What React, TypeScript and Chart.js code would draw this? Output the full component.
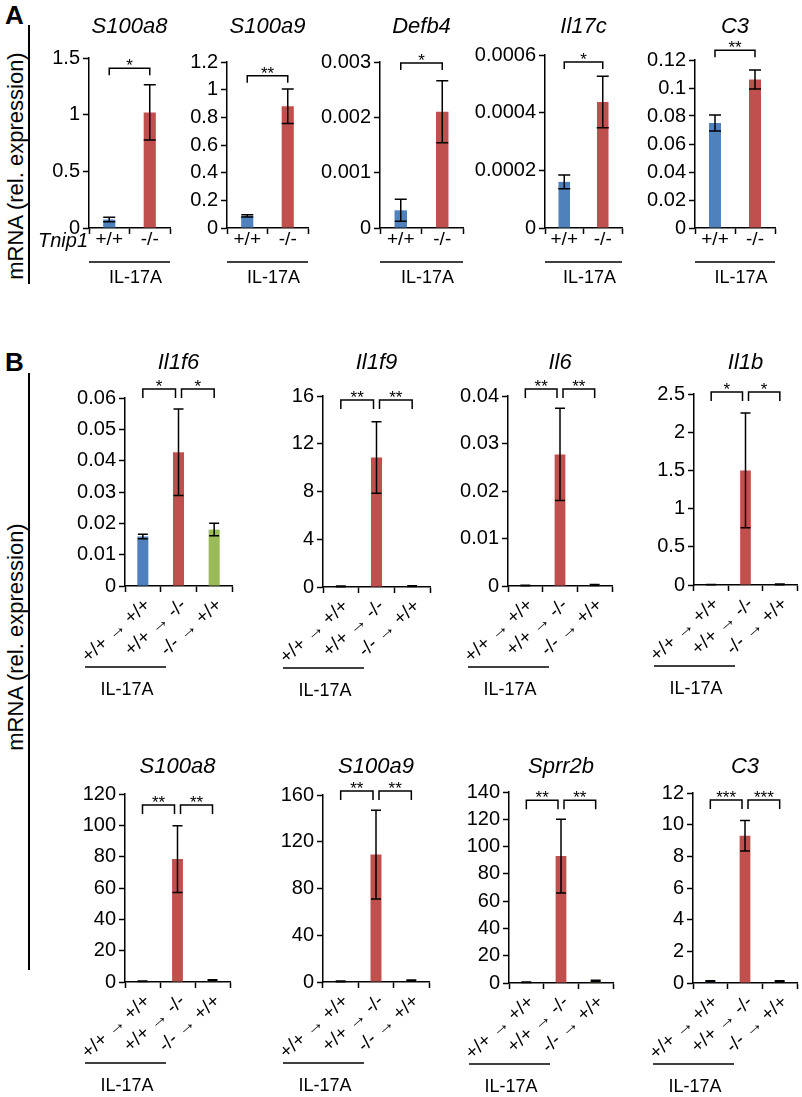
import React, { useEffect, useRef } from "react";
import { Chart, registerables } from "chart.js";
Chart.register(...registerables);

const FONT = '"Liberation Sans", Arial, Helvetica, sans-serif';
const BLUE = "#4F81BD";
const RED = "#C0504D";
const GREEN = "#9BBB59";

// ---------- Panel A data ----------
const genotypesA = ["+/+", "-/-"];
const genesA = ["S100a8", "S100a9", "Defb4", "Il17c", "C3"];
const meansA = [
  [0.075, 1.02],
  [0.088, 0.88],
  [0.00032, 0.0021],
  [0.00016, 0.000437],
  [0.075, 0.106],
];
const semA = [
  [0.02, 0.243],
  [0.008, 0.125],
  [0.0002, 0.00056],
  [0.000024, 0.000089],
  [0.0057, 0.0068],
];
const yMaxA = [1.5, 1.2, 0.003, 0.0006, 0.12];
const yStepA = [0.5, 0.2, 0.001, 0.0002, 0.02];
const starsA = ["*", "**", "*", "*", "**"];
const bracketA = [1.41, 1.1, 0.00298, 0.000576, 0.127];

// ---------- Panel B data ----------
const transplantsB = ["+/+ \u2192 +/+", "+/+ \u2192 -/-", "-/- \u2192 +/+"];
const genesB = ["Il1f6", "Il1f9", "Il6", "Il1b", "S100a8", "S100a9", "Sprr2b", "C3"];
const meansB = [
  [0.0158, 0.0427, 0.018],
  [0.06, 10.85, 0.08],
  [0.0001, 0.0277, 0.0002],
  [0.005, 1.5, 0.008],
  [0.5, 78.5, 1.0],
  [0.6, 109, 1.2],
  [0.5, 93, 1.5],
  [0.1, 9.3, 0.1],
];
const semB = [
  [0.0007, 0.0138, 0.002],
  [0.03, 3.0, 0.03],
  [0.00005, 0.0097, 0.0001],
  [0.003, 0.75, 0.004],
  [0.2, 21.3, 0.4],
  [0.3, 38, 0.5],
  [0.2, 27, 0.6],
  [0.04, 0.97, 0.05],
];
const yMaxB = [0.06, 16, 0.04, 2.5, 120, 160, 140, 12];
const yStepB = [0.01, 2, 0.01, 0.5, 20, 40, 20, 2];
const starsB = [
  ["*", "*"],
  ["**", "**"],
  ["**", "**"],
  ["*", "*"],
  ["**", "**"],
  ["**", "**"],
  ["**", "**"],
  ["***", "***"],
];
const bracketB = [0.0629, 15.66, 0.0415, 2.526, 113, 163.4, 134, 11.56];

// ---------- layout (pixel placement of each plot area) ----------
const layoutA = [
  { x0: 89, x1: 170, y0: 58, y1: 228 },
  { x0: 227, x1: 308, y0: 62, y1: 228 },
  { x0: 380, x1: 463, y0: 62, y1: 228 },
  { x0: 545, x1: 622, y0: 55, y1: 228 },
  { x0: 695, x1: 775, y0: 60, y1: 228 },
];
const layoutB = [
  { x0: 125, x1: 232, y0: 398, y1: 586 },
  { x0: 323, x1: 430, y0: 396, y1: 587 },
  { x0: 508, x1: 612, y0: 396, y1: 586 },
  { x0: 694, x1: 797, y0: 394, y1: 585 },
  { x0: 125, x1: 230, y0: 794, y1: 982 },
  { x0: 323, x1: 429, y0: 795, y1: 982 },
  { x0: 509, x1: 613, y0: 792, y1: 983 },
  { x0: 693, x1: 797, y0: 793, y1: 983 },
];

interface Spec {
  title: string;
  labels: string[];
  values: number[];
  errors: number[];
  colors: string[];
  yMax: number;
  yStep: number;
  stars: string[];
  bracket: number;
  x0: number;
  x1: number;
  y0: number;
  y1: number;
  canvasTop: number;
  canvasBottom: number;
  titleY: number;
  panel: "A" | "B";
  tnip?: boolean;
}

const specsA: Spec[] = genesA.map((g, i) => ({
  title: g,
  labels: genotypesA,
  values: meansA[i],
  errors: semA[i],
  colors: [BLUE, RED],
  yMax: yMaxA[i],
  yStep: yStepA[i],
  stars: [starsA[i]],
  bracket: bracketA[i],
  ...layoutA[i],
  canvasTop: 0,
  canvasBottom: 295,
  titleY: 27,
  panel: "A",
  tnip: i === 0,
}));

const specsB: Spec[] = genesB.map((g, i) => ({
  title: g,
  labels: transplantsB,
  values: meansB[i],
  errors: semB[i],
  colors: [BLUE, RED, GREEN],
  yMax: yMaxB[i],
  yStep: yStepB[i],
  stars: starsB[i],
  bracket: bracketB[i],
  ...layoutB[i],
  canvasTop: i < 4 ? 340 : 745,
  canvasBottom: i < 4 ? 712 : 1097,
  titleY: i < 4 ? 363 : 767,
  panel: "B",
}));

const fmt = (v: number | string) => String(parseFloat(Number(v).toPrecision(8)));

function BarPanel({ spec }: { spec: Spec }) {
  const ref = useRef<HTMLCanvasElement>(null);
  const isB = spec.panel === "B";
  const LW = 80;
  const YW = 77;
  const XH = isB ? 100 : 24;
  const left = spec.x0 - LW;
  const right = Math.min(spec.x1 + 10, 802);
  const width = right - left;
  const height = spec.canvasBottom - spec.canvasTop;

  useEffect(() => {
    const canvas = ref.current!;
    const padTop = spec.y0 - spec.canvasTop;
    const padRight = right - spec.x1;
    const padBottom = spec.canvasBottom - spec.y1 - XH;
    const capW = isB ? 10 : 12;

    const plugin = {
      id: "extras",
      afterDatasetsDraw(chart: any) {
        const ctx = chart.ctx;
        const xs = chart.scales.x;
        const ys = chart.scales.y;
        ctx.save();
        ctx.strokeStyle = "#000";
        ctx.lineWidth = 1.5;
        spec.values.forEach((v, i) => {
          const e = spec.errors[i];
          const x = xs.getPixelForValue(i);
          const yt = ys.getPixelForValue(v + e);
          const yb = ys.getPixelForValue(Math.max(v - e, 0));
          ctx.beginPath();
          ctx.moveTo(x, yt);
          ctx.lineTo(x, yb);
          ctx.moveTo(x - capW / 2, yt);
          ctx.lineTo(x + capW / 2, yt);
          ctx.moveTo(x - capW / 2, yb);
          ctx.lineTo(x + capW / 2, yb);
          ctx.stroke();
        });
        ctx.restore();
      },
      afterDraw(chart: any) {
        const ctx = chart.ctx;
        const ca = chart.chartArea;
        const xs = chart.scales.x;
        const ys = chart.scales.y;
        ctx.save();
        ctx.fillStyle = "#000";
        ctx.strokeStyle = "#000";
        // title
        ctx.font = `italic 22px ${FONT}`;
        ctx.textAlign = "center";
        ctx.textBaseline = "middle";
        ctx.fillText(spec.title, (ca.left + ca.right) / 2, spec.titleY - spec.canvasTop);
        // significance brackets
        const yb = ys.getPixelForValue(spec.bracket);
        const leg = isB ? 9 : 7;
        const pairs: number[][] = isB
          ? [
              [xs.getPixelForValue(0), xs.getPixelForValue(1) - 3],
              [xs.getPixelForValue(1) + 3, xs.getPixelForValue(2)],
            ]
          : [[xs.getPixelForValue(0), xs.getPixelForValue(1)]];
        ctx.lineWidth = 1.5;
        pairs.forEach(([a, b], k) => {
          ctx.beginPath();
          ctx.moveTo(a, yb + leg);
          ctx.lineTo(a, yb);
          ctx.lineTo(b, yb);
          ctx.lineTo(b, yb + leg);
          ctx.stroke();
          ctx.font = `17px ${FONT}`;
          ctx.textBaseline = "alphabetic";
          ctx.textAlign = "center";
          ctx.fillText(spec.stars[k], (a + b) / 2, yb + 3);
        });
        // treatment underline + label
        ctx.lineWidth = 1.5;
        ctx.font = `18px ${FONT}`;
        ctx.textBaseline = "middle";
        ctx.textAlign = "center";
        if (isB) {
          const ly = ca.bottom + 81;
          ctx.beginPath();
          ctx.moveTo(ca.left - 40, ly);
          ctx.lineTo(ca.left + 41, ly);
          ctx.stroke();
          ctx.fillText("IL-17A", ca.left + 2, ca.bottom + 104);
        } else {
          const ly = ca.bottom + 34;
          ctx.beginPath();
          ctx.moveTo(ca.left, ly);
          ctx.lineTo(ca.right, ly);
          ctx.stroke();
          ctx.fillText("IL-17A", (ca.left + ca.right) / 2 + 6, ca.bottom + 50);
        }
        if (spec.tnip) {
          ctx.font = `italic 20px ${FONT}`;
          ctx.textAlign = "right";
          ctx.textBaseline = "middle";
          ctx.fillText("Tnip1", ca.left - 1, ca.bottom + 13);
        }
        ctx.restore();
      },
    };

    const chart = new Chart(canvas, {
      type: "bar",
      data: {
        labels: spec.labels,
        datasets: [
          {
            data: spec.values,
            backgroundColor: spec.colors,
            borderWidth: 0,
            barPercentage: isB ? 0.31 : 0.3,
            categoryPercentage: 1,
          },
        ],
      },
      options: {
        animation: false,
        responsive: false,
        maintainAspectRatio: false,
        devicePixelRatio: 1,
        layout: {
          padding: { left: LW - YW, right: padRight, top: padTop, bottom: padBottom },
        },
        plugins: {
          legend: { display: false },
          tooltip: { enabled: false },
          title: { display: false },
        },
        scales: {
          x: {
            type: "category",
            offset: true,
            grid: {
              display: true,
              drawOnChartArea: false,
              drawTicks: true,
              tickLength: 6,
              tickWidth: 1.5,
              tickColor: "#000",
              offset: true,
            },
            border: { display: true, color: "#000", width: 1.5 },
            ticks: {
              color: "#000",
              font: { family: FONT, size: isB ? 19 : 19 },
              padding: isB ? 2 : -6,
              autoSkip: false,
              maxRotation: isB ? 42 : 0,
              minRotation: isB ? 42 : 0,
              labelOffset: isB ? 5 : 0,
            },
            afterFit: (s: any) => {
              s.height = XH;
            },
          },
          y: {
            min: 0,
            max: spec.yMax,
            grid: {
              display: true,
              drawOnChartArea: false,
              drawTicks: true,
              tickLength: 6,
              tickWidth: 1.5,
              tickColor: "#000",
            },
            border: { display: true, color: "#000", width: 1.5 },
            ticks: {
              stepSize: spec.yStep,
              color: "#000",
              font: { family: FONT, size: 20 },
              padding: 3,
              callback: (v: any) => fmt(v),
            },
            afterFit: (s: any) => {
              s.width = YW;
            },
          },
        },
      },
      plugins: [plugin],
    } as any);
    return () => chart.destroy();
  }, []);

  return (
    <canvas
      ref={ref}
      width={width}
      height={height}
      style={{ position: "absolute", left, top: spec.canvasTop, width, height }}
    />
  );
}

export default function App() {
  const yTitleStyle = (cx: number, cy: number): React.CSSProperties => ({
    position: "absolute",
    left: cx - 150,
    top: cy - 13,
    width: 300,
    height: 26,
    lineHeight: "26px",
    fontSize: 22,
    textAlign: "center",
    transform: "rotate(-90deg)",
    whiteSpace: "nowrap",
  });
  return (
    <div
      style={{
        position: "absolute",
        left: 0,
        top: 0,
        width: 802,
        height: 1097,
        background: "#fff",
        fontFamily: FONT,
        color: "#000",
        overflow: "hidden",
      }}
    >
      <div style={{ position: "absolute", left: 5, top: 2, fontSize: 26, fontWeight: "bold", lineHeight: "26px" }}>A</div>
      <div style={{ position: "absolute", left: 5, top: 349, fontSize: 26, fontWeight: "bold", lineHeight: "26px" }}>B</div>
      <div style={{ position: "absolute", left: 28, top: 25, width: 2, height: 259, background: "#000" }} />
      <div style={{ position: "absolute", left: 28, top: 373, width: 2, height: 597, background: "#000" }} />
      <div style={yTitleStyle(16, 166)}>mRNA (rel. expression)</div>
      <div style={yTitleStyle(16, 637)}>mRNA (rel. expression)</div>
      {specsA.map((s, i) => (
        <BarPanel key={"a" + i} spec={s} />
      ))}
      {specsB.map((s, i) => (
        <BarPanel key={"b" + i} spec={s} />
      ))}
    </div>
  );
}
